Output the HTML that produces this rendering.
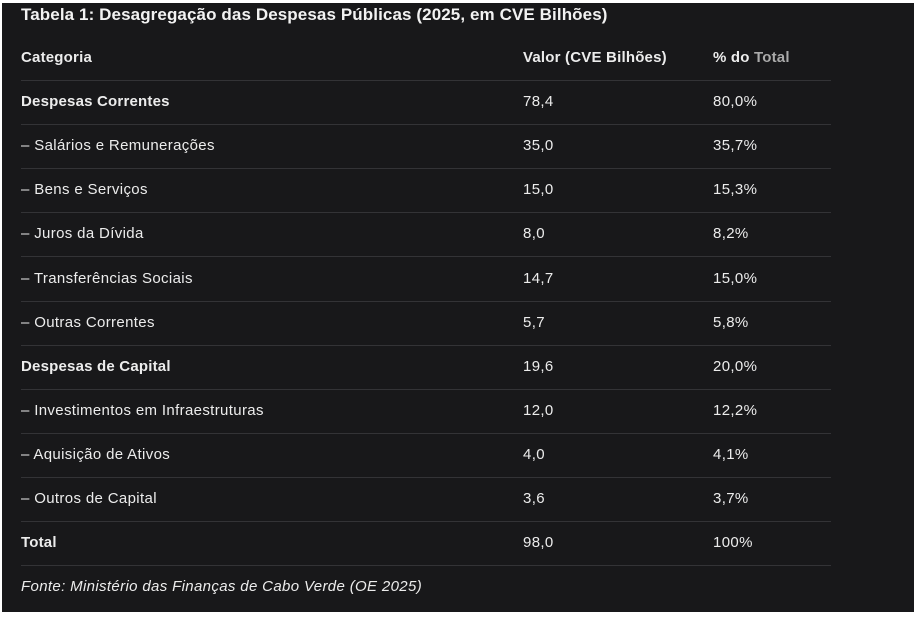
<!DOCTYPE html>
<html><head><meta charset="utf-8"><style>
body{margin:0;background:#fff;width:917px;height:617px;position:relative;overflow:hidden;font-family:"Liberation Sans",sans-serif}
#p{position:absolute;left:2px;top:3px;width:912px;height:609px;background:#18181a}
.t{position:absolute;color:#ececec;font-size:15px;letter-spacing:0.35px;white-space:nowrap;line-height:18px}
.b{font-weight:bold;letter-spacing:0.2px}
.l{position:absolute;left:21px;width:810px;height:1px;background:#333336}
</style></head><body><div id="p"></div>
<div class="t b" style="left:21px;top:6px;font-size:17px;letter-spacing:0.1px;color:#f2f2f2">Tabela 1: Desagregação das Despesas Públicas (2025, em CVE Bilhões)</div>
<div id="rows"></div>
<script>
var r=[["Categoria","Valor (CVE Bilhões)","% do <span style='color:#aaa'>Total</span>",1],
["Despesas Correntes","78,4","80,0%",1],["– Salários e Remunerações","35,0","35,7%"],["– Bens e Serviços","15,0","15,3%"],["– Juros da Dívida","8,0","8,2%"],["– Transferências Sociais","14,7","15,0%"],["– Outras Correntes","5,7","5,8%"],["Despesas de Capital","19,6","20,0%",1],["– Investimentos em Infraestruturas","12,0","12,2%"],["– Aquisição de Ativos","4,0","4,1%"],["– Outros de Capital","3,6","3,7%"],["Total","98,0","100%",1]];
var h="";r.forEach(function(x,i){var y=49+i*44.1;var c=x[3]?"t b":"t";var c2=i==0?"t b":"t";
h+='<div class="'+c+'" style="left:21px;top:'+y+'px">'+x[0]+'</div><div class="'+c2+'" style="left:523px;top:'+y+'px">'+x[1]+'</div><div class="'+c2+'" style="left:713px;top:'+y+'px">'+x[2]+'</div><div class="l" style="top:'+(y+31)+'px"></div>';});
h+='<div class="t" style="left:21px;top:578px;font-style:italic">Fonte: Ministério das Finanças de Cabo Verde (OE 2025)</div>';
document.getElementById("rows").innerHTML=h;
</script></body></html>
